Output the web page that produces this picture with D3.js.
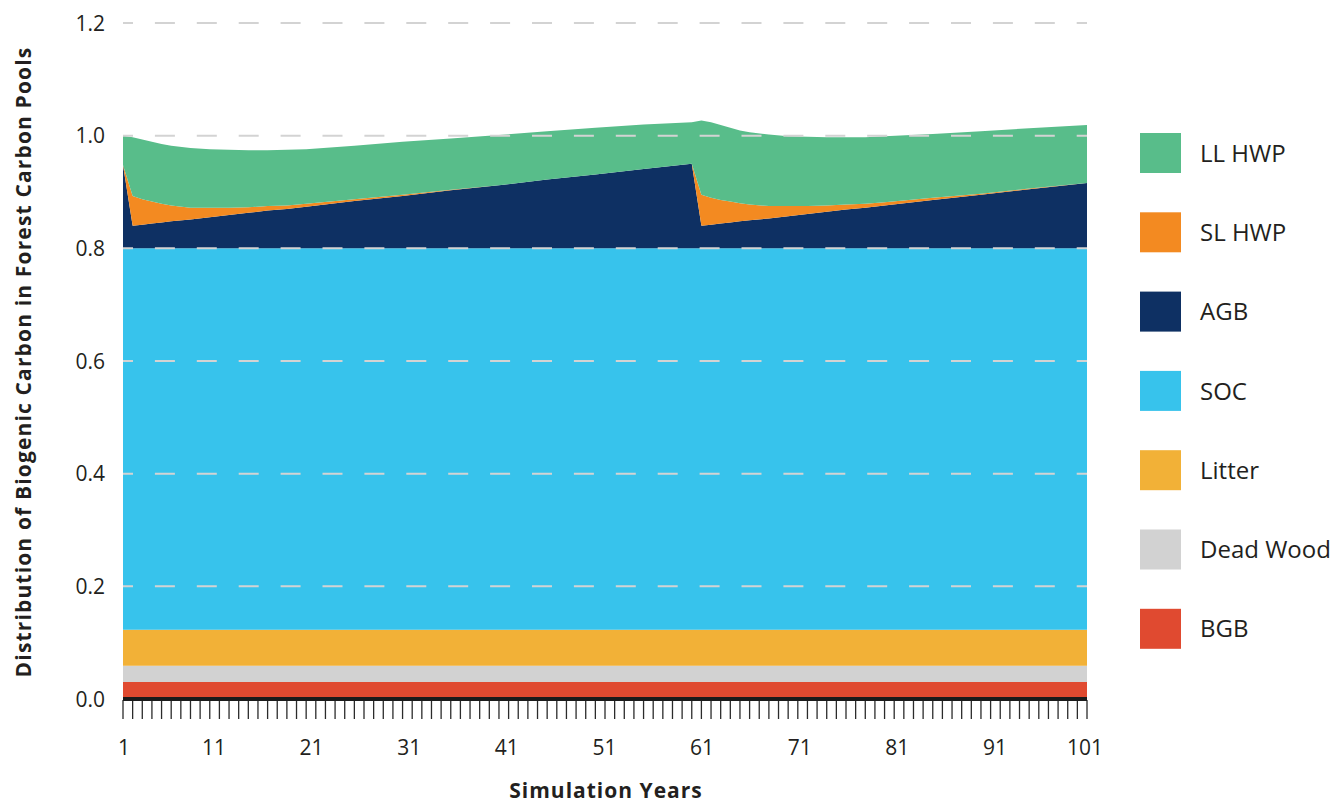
<!DOCTYPE html>
<html>
    <head>
        <meta charset="utf-8">
        <style>
            body { margin: 0; background: #fff; }
            text { font-family: "Open Sans", Lato, sans-serif; fill: #231f20; }
        </style>
    </head>
    <body>
        <svg></svg>
        <script src="https://cdn.jsdelivr.net/npm/d3@7/dist/d3.min.js"></script>
        <script>
            const width = 1333;
            const height = 803;

            // simulation years sampled from the chart
            const years = [1, 2, 3, 4, 5, 6, 8, 10, 12, 14, 16, 18, 20, 25, 30, 35, 40, 45, 50, 55, 60,
                61, 62, 63, 64, 65, 66, 68, 70, 72, 74, 76, 78, 80, 85, 90, 95, 101];

            // carbon pools (fraction of initial biogenic carbon), bottom to top
            const bgb = [0.030, 0.030, 0.030, 0.030, 0.030, 0.030, 0.030, 0.030, 0.030, 0.030, 0.030, 0.030, 0.030, 0.030, 0.030, 0.030, 0.030, 0.030, 0.030, 0.030, 0.030,
                0.030, 0.030, 0.030, 0.030, 0.030, 0.030, 0.030, 0.030, 0.030, 0.030, 0.030, 0.030, 0.030, 0.030, 0.030, 0.030, 0.030];
            const deadWood = [0.029, 0.029, 0.029, 0.029, 0.029, 0.029, 0.029, 0.029, 0.029, 0.029, 0.029, 0.029, 0.029, 0.029, 0.029, 0.029, 0.029, 0.029, 0.029, 0.029, 0.029,
                0.029, 0.029, 0.029, 0.029, 0.029, 0.029, 0.029, 0.029, 0.029, 0.029, 0.029, 0.029, 0.029, 0.029, 0.029, 0.029, 0.029];
            const litter = [0.064, 0.064, 0.064, 0.064, 0.064, 0.064, 0.064, 0.064, 0.064, 0.064, 0.064, 0.064, 0.064, 0.064, 0.064, 0.064, 0.064, 0.064, 0.064, 0.064, 0.064,
                0.064, 0.064, 0.064, 0.064, 0.064, 0.064, 0.064, 0.064, 0.064, 0.064, 0.064, 0.064, 0.064, 0.064, 0.064, 0.064, 0.064];
            const soc = [0.677, 0.677, 0.677, 0.677, 0.677, 0.677, 0.677, 0.677, 0.677, 0.677, 0.677, 0.677, 0.677, 0.677, 0.677, 0.677, 0.677, 0.677, 0.677, 0.677, 0.677,
                0.677, 0.677, 0.677, 0.677, 0.677, 0.677, 0.677, 0.677, 0.677, 0.677, 0.677, 0.677, 0.677, 0.677, 0.677, 0.677, 0.677];
            const agb = [0.148, 0.040, 0.042, 0.044, 0.046, 0.048, 0.051, 0.055, 0.059, 0.063, 0.067, 0.070, 0.074, 0.084, 0.093, 0.103, 0.112, 0.122, 0.131, 0.141, 0.150,
                0.040, 0.042, 0.044, 0.046, 0.048, 0.050, 0.053, 0.057, 0.061, 0.065, 0.069, 0.072, 0.076, 0.086, 0.095, 0.105, 0.116];
            const slHwp = [0, 0.053, 0.045, 0.039, 0.033, 0.028, 0.021, 0.017, 0.013, 0.010, 0.008, 0.006, 0.005, 0.003, 0.002, 0.001, 0, 0, 0, 0, 0,
                0.055, 0.048, 0.042, 0.037, 0.032, 0.028, 0.022, 0.018, 0.014, 0.011, 0.009, 0.007, 0.006, 0.004, 0.002, 0.001, 0];
            const llHwp = [0.052, 0.104, 0.106, 0.106, 0.106, 0.106, 0.106, 0.104, 0.103, 0.101, 0.099, 0.099, 0.097, 0.095, 0.094, 0.091, 0.089, 0.086, 0.083, 0.079, 0.074,
                0.132, 0.134, 0.133, 0.131, 0.129, 0.128, 0.127, 0.124, 0.123, 0.121, 0.119, 0.118, 0.117, 0.113, 0.111, 0.107, 0.103];

            const pools = ['BGB', 'Dead Wood', 'Litter', 'SOC', 'AGB', 'SL HWP', 'LL HWP'];
            const poolValues = [bgb, deadWood, litter, soc, agb, slHwp, llHwp];
            const poolColors = ['#e04a30', '#d2d2d2', '#f2b137', '#37c3ec', '#0e3063', '#f38a21', '#58bd8a'];

            const yTicks = [0, 0.2, 0.4, 0.6, 0.8, 1.0, 1.2];
            const xLabels = [1, 11, 21, 31, 41, 51, 61, 71, 81, 91, 101];

            const table = years.map((yr, i) => {
                const row = { year: yr };
                pools.forEach((p, k) => { row[p] = poolValues[k][i]; });
                return row;
            });

            const svg = d3.select('svg')
                .attr('width', width).attr('height', height);

            const x = d3.scaleLinear().domain([1, 101]).range([123, 1087]);
            const xLabelPos = d3.scaleLinear().domain([1, 11, 91, 101]).range([124, 214, 995, 1085]);
            const y = d3.scaleLinear().domain([0, 1.2]).range([699, 23]);
            const color = d3.scaleOrdinal().domain(pools).range(poolColors);

            const series = d3.stack().keys(pools)(table);

            const area = d3.area()
                .x(d => x(d.data.year))
                .y0(d => y(d[0]))
                .y1(d => y(d[1]));

            svg.append('g')
                .selectAll('path')
                .data(series)
                .enter().append('path')
                .attr('d', area)
                .attr('fill', d => color(d.key));

            // dashed grid drawn over the areas
            svg.append('g')
                .selectAll('line')
                .data(yTicks.filter(t => t > 0))
                .enter().append('line')
                .attr('x1', x(1)).attr('x2', x(101))
                .attr('y1', d => y(d)).attr('y2', d => y(d))
                .attr('stroke', '#d3d3d3')
                .attr('stroke-width', 2)
                .attr('stroke-dasharray', '20,21.9')
                .attr('stroke-dashoffset', 10);

            svg.append('g')
                .selectAll('text')
                .data(yTicks)
                .enter().append('text')
                .attr('x', 105)
                .attr('y', d => y(d))
                .attr('dy', '0.36em')
                .attr('text-anchor', 'end')
                .style('font-size', '21px')
                .text(d => d3.format('.1f')(d));

            // x axis: yearly ticks and heavy baseline
            svg.append('g')
                .selectAll('line')
                .data(d3.range(1, 102))
                .enter().append('line')
                .attr('x1', d => x(d)).attr('x2', d => x(d))
                .attr('y1', 700).attr('y2', 719)
                .attr('stroke', '#2b2b2b')
                .attr('stroke-width', 1.3);

            svg.append('line')
                .attr('x1', x(1)).attr('x2', x(101))
                .attr('y1', y(0)).attr('y2', y(0))
                .attr('stroke', '#1b1b1b')
                .attr('stroke-width', 4);

            svg.append('g')
                .selectAll('text')
                .data(xLabels)
                .enter().append('text')
                .attr('x', d => xLabelPos(d))
                .attr('y', 755)
                .attr('text-anchor', 'middle')
                .style('font-size', '21px')
                .text(d => d);

            svg.append('text')
                .attr('x', 606)
                .attr('y', 798)
                .attr('text-anchor', 'middle')
                .style('font-size', '21px')
                .style('font-weight', 'bold')
                .style('letter-spacing', '1px')
                .text('Simulation Years');

            svg.append('text')
                .attr('transform', 'translate(31,362) rotate(-90)')
                .attr('text-anchor', 'middle')
                .style('font-size', '21px')
                .style('font-weight', 'bold')
                .style('letter-spacing', '1.15px')
                .text('Distribution of Biogenic Carbon in Forest Carbon Pools');

            // legend, top pool first
            const legend = svg.append('g')
                .selectAll('g')
                .data(pools.slice().reverse())
                .enter().append('g')
                .attr('transform', (d, i) => `translate(1140,${133 + i * 79.3})`);

            legend.append('rect')
                .attr('width', 41).attr('height', 40)
                .attr('fill', d => color(d));

            legend.append('text')
                .attr('x', 60)
                .attr('y', 20)
                .attr('dy', '0.36em')
                .style('font-size', '24px')
                .text(d => d);
        </script>
    </body>
</html>
